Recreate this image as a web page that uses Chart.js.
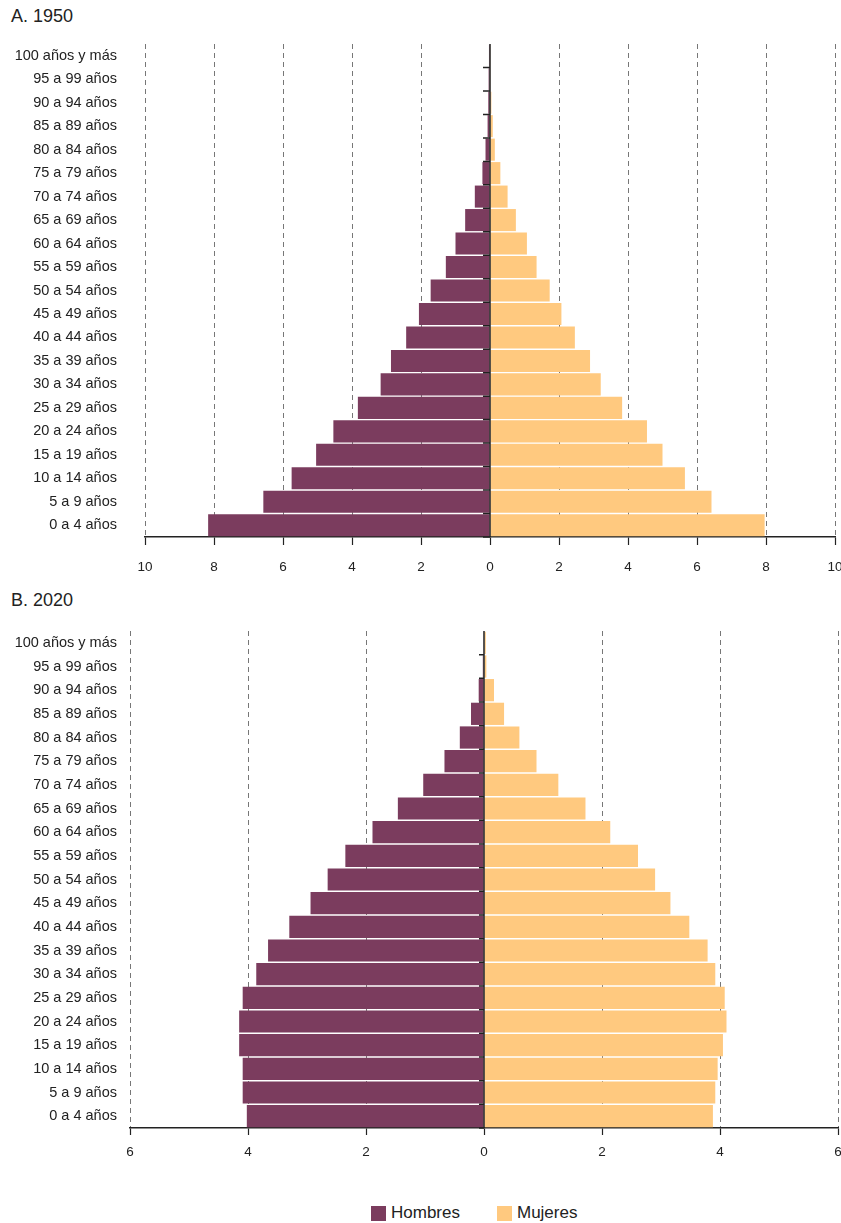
<!DOCTYPE html>
<html lang="es">
<head>
<meta charset="utf-8">
<title>Pirámides de población 1950 y 2020</title>
<script src="https://cdn.jsdelivr.net/npm/chart.js@4.4.1/dist/chart.umd.min.js"></script>
<style>
  html, body { margin: 0; padding: 0; background: #fff; }
  body { width: 841px; height: 1223px; position: relative; overflow: hidden;
         font-family: "Liberation Sans", Arial, sans-serif; color: #222; }
  .titulo { position: absolute; left: 11px; font-size: 18px; line-height: 20px; }
  .caja { position: absolute; left: 0; width: 841px; }
  #leyenda { position: absolute; top: 1203px; left: 371px; display: flex; font-size: 17px; line-height: 20px; }
  #leyenda span.item { display: flex; align-items: center; margin-right: 37px; }
  #leyenda i { display: inline-block; width: 15px; height: 15px; margin-right: 5px; }
</style>
</head>
<body>
<div class="titulo" style="top:6px">A. 1950</div>
<div class="caja" style="top:30px;height:555px"><canvas id="c1950"></canvas></div>
<div class="titulo" style="top:590px">B. 2020</div>
<div class="caja" style="top:590px;height:585px"><canvas id="c2020"></canvas></div>
<div id="leyenda"></div>

<script>
// grupos de edad, de menor a mayor
const edades = ['0 a 4 años', '5 a 9 años', '10 a 14 años', '15 a 19 años', '20 a 24 años',
  '25 a 29 años', '30 a 34 años', '35 a 39 años', '40 a 44 años', '45 a 49 años',
  '50 a 54 años', '55 a 59 años', '60 a 64 años', '65 a 69 años', '70 a 74 años',
  '75 a 79 años', '80 a 84 años', '85 a 89 años', '90 a 94 años', '95 a 99 años',
  '100 años y más']

// porcentaje de la población total
const hombres1950 = [8.17, 6.57, 5.75, 5.04, 4.54, 3.83, 3.17, 2.87, 2.43, 2.06,
  1.72, 1.28, 1.0, 0.72, 0.44, 0.22, 0.13, 0.07, 0.05, 0.04, 0.03]
const mujeres1950 = [7.96, 6.42, 5.65, 5.0, 4.55, 3.83, 3.21, 2.9, 2.46, 2.07,
  1.73, 1.35, 1.07, 0.75, 0.51, 0.3, 0.14, 0.08, 0.04, 0.02, 0.01]

const hombres2020 = [4.02, 4.09, 4.09, 4.15, 4.15, 4.09, 3.86, 3.66, 3.3, 2.94,
  2.65, 2.35, 1.89, 1.46, 1.03, 0.67, 0.41, 0.22, 0.09, 0.02, 0.01]
const mujeres2020 = [3.88, 3.92, 3.96, 4.05, 4.11, 4.08, 3.92, 3.79, 3.48, 3.16,
  2.9, 2.61, 2.14, 1.72, 1.26, 0.89, 0.6, 0.34, 0.17, 0.04, 0.03]

const colorHombres = '#7b3c5e'
const colorMujeres = '#ffc97f'
const fuente = '"Liberation Sans", Arial, sans-serif'

// línea vertical en el cero con marcas entre grupos
const ejeCentral = {
  id: 'ejeCentral',
  afterDatasetsDraw(chart, args, opts) {
    const { ctx, chartArea, scales } = chart
    const x0 = scales.x.getPixelForValue(0)
    ctx.save()
    ctx.strokeStyle = '#222'
    ctx.lineWidth = 1.5
    ctx.beginPath()
    ctx.moveTo(x0, chartArea.top)
    ctx.lineTo(x0, chartArea.bottom)
    for (let i = 0; i < scales.y.ticks.length; i++) {
      const yy = scales.y.getPixelForValue(i - 0.5)
      ctx.moveTo(x0 - opts.largo, yy)
      ctx.lineTo(x0, yy)
    }
    ctx.stroke()
    ctx.restore()
  },
}

const piramide = (id, hombres, mujeres, lim, o) => {
  return new Chart(document.getElementById(id).getContext('2d'), {
    type: 'bar',
    data: {
      labels: edades,
      datasets: [
        {
          label: 'Hombres',
          data: hombres.map((v) => -v),
          backgroundColor: colorHombres,
        },
        {
          label: 'Mujeres',
          data: mujeres,
          backgroundColor: colorMujeres,
        },
      ],
    },
    options: {
      indexAxis: 'y',
      responsive: true,
      maintainAspectRatio: false,
      animation: false,
      barPercentage: 0.94,
      categoryPercentage: 1,
      layout: { padding: { top: o.arriba, right: o.derecha, left: 0, bottom: 0 } },
      plugins: {
        legend: { display: false },
        tooltip: { enabled: false },
        ejeCentral: { largo: o.marca },
      },
      scales: {
        x: {
          type: 'linear',
          min: -lim,
          max: lim,
          stacked: true,
          ticks: {
            stepSize: 2,
            padding: o.pad,
            color: '#222',
            font: { family: fuente, size: 13.5 },
            callback: (v) => Math.abs(v),
          },
          grid: {
            color: (c) => (c.tick && c.tick.value === 0 ? 'rgba(0,0,0,0)' : '#777'),
            tickColor: '#222',
            tickLength: o.tick,
            tickWidth: 1.2,
          },
          border: {
            color: '#222',
            width: 1.5,
            dash: (c) => (c.type === 'tick' ? [5, 4] : []),
          },
          afterFit: (s) => {
            s.height = o.altoX
            s.paddingLeft = 0
            s.paddingRight = 0
          },
        },
        y: {
          type: 'category',
          reverse: true,
          stacked: true,
          grid: { display: false, drawTicks: false },
          border: { display: false },
          ticks: {
            autoSkip: false,
            padding: o.padY,
            color: '#222',
            font: { family: fuente, size: 14.5 },
          },
          afterFit: (s) => {
            s.width = o.anchoY
            s.paddingTop = 0
            s.paddingBottom = 0
          },
        },
      },
    },
    plugins: [ejeCentral],
  })
}

const g1 = piramide('c1950', hombres1950, mujeres1950, 10,
  { arriba: 14, derecha: 6, altoX: 48, tick: 8, pad: 14, anchoY: 145, padY: 28, marca: 7 })
piramide('c2020', hombres2020, mujeres2020, 6,
  { arriba: 41, derecha: 3, altoX: 47, tick: 7, pad: 9, anchoY: 130, padY: 13, marca: 5 })

// leyenda común
document.getElementById('leyenda').innerHTML = g1.data.datasets
  .map((d) => '<span class="item"><i style="background:' + d.backgroundColor + '"></i>' + d.label + '</span>')
  .join('')
</script>
</body>
</html>
